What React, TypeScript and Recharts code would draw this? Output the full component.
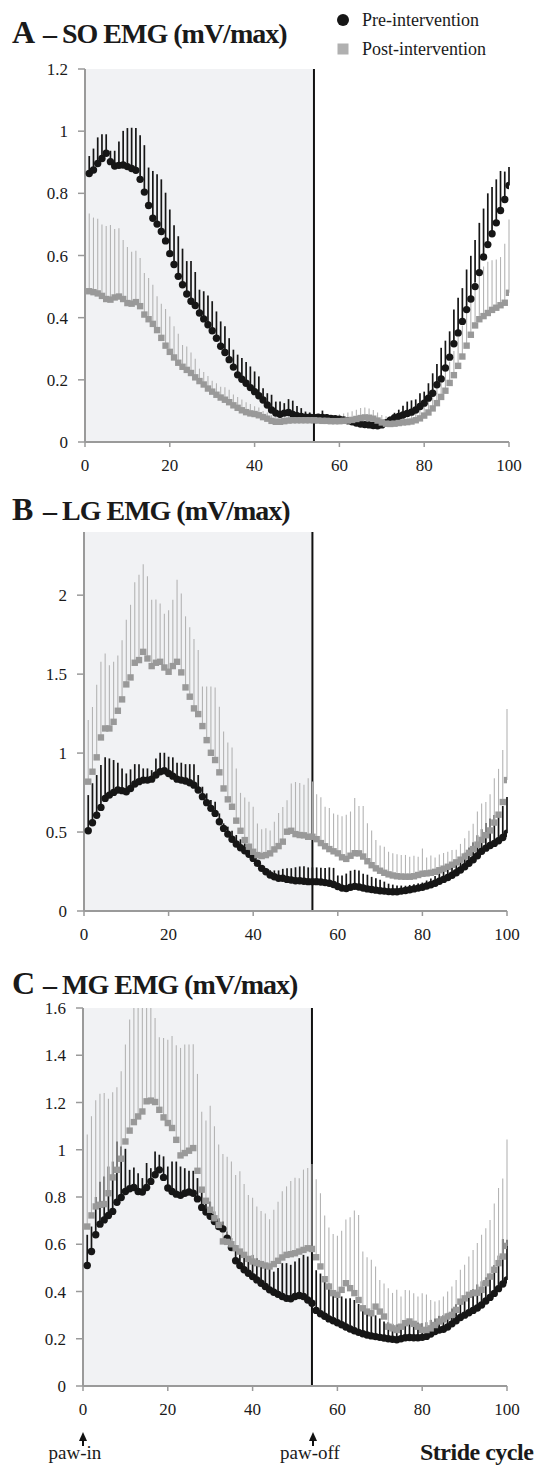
import React from 'react';
import { ComposedChart, Scatter, XAxis, YAxis, ErrorBar, ReferenceArea, ReferenceLine } from 'recharts';

const FONT = '"Liberation Serif", "Times New Roman", serif';

// stride cycle positions (%)
const STRIDE = Array.from({ length: 100 }, (_, i) => i + 1);
const X_TICKS = [0, 20, 40, 60, 80, 100];
const PAW_OFF = 54;

// ---------- A : SO EMG ----------
const PRE_A = [0.864,0.875,0.896,0.912,0.929,0.902,0.888,0.890,0.891,0.886,0.880,0.874,0.845,0.804,0.761,0.720,0.701,0.677,0.647,0.606,0.571,0.533,0.506,0.476,0.453,0.439,0.415,0.396,0.377,0.358,0.334,0.308,0.288,0.265,0.241,0.216,0.202,0.189,0.175,0.162,0.149,0.135,0.119,0.103,0.093,0.089,0.093,0.095,0.089,0.085,0.082,0.080,0.080,0.079,0.080,0.079,0.078,0.076,0.075,0.073,0.071,0.068,0.065,0.061,0.058,0.056,0.055,0.053,0.052,0.055,0.062,0.070,0.078,0.082,0.087,0.092,0.096,0.103,0.114,0.125,0.141,0.157,0.184,0.203,0.238,0.273,0.316,0.351,0.388,0.426,0.460,0.500,0.545,0.595,0.635,0.670,0.705,0.745,0.780,0.825];
const PRE_A_SD = [0.056,0.069,0.084,0.078,0.061,0.035,0.049,0.077,0.110,0.124,0.131,0.136,0.142,0.151,0.122,0.152,0.160,0.168,0.155,0.142,0.126,0.129,0.116,0.106,0.129,0.108,0.075,0.089,0.094,0.095,0.086,0.080,0.084,0.069,0.056,0.065,0.068,0.068,0.068,0.065,0.062,0.038,0.038,0.049,0.037,0.041,0.032,0.043,0.044,0.031,0.027,0.018,0.015,0.012,0.010,0.022,0.012,0.010,0.008,0.008,0.007,0.006,0.006,0.006,0.005,0.005,0.005,0.005,0.005,0.006,0.008,0.012,0.016,0.022,0.030,0.038,0.038,0.034,0.043,0.037,0.048,0.064,0.067,0.100,0.088,0.083,0.110,0.113,0.107,0.129,0.139,0.150,0.160,0.156,0.165,0.150,0.140,0.127,0.090,0.060];
const POST_A = [0.485,0.482,0.478,0.470,0.460,0.458,0.465,0.468,0.460,0.447,0.445,0.450,0.437,0.410,0.395,0.380,0.360,0.335,0.310,0.290,0.272,0.255,0.242,0.232,0.222,0.208,0.196,0.185,0.172,0.162,0.152,0.143,0.136,0.128,0.118,0.110,0.102,0.096,0.092,0.090,0.086,0.080,0.075,0.068,0.065,0.065,0.067,0.069,0.070,0.070,0.070,0.070,0.070,0.070,0.069,0.068,0.068,0.067,0.067,0.067,0.068,0.069,0.071,0.074,0.077,0.079,0.078,0.075,0.069,0.063,0.059,0.058,0.059,0.061,0.063,0.064,0.066,0.070,0.076,0.085,0.095,0.108,0.125,0.145,0.165,0.190,0.215,0.245,0.275,0.310,0.345,0.375,0.395,0.405,0.415,0.425,0.432,0.440,0.448,0.480];
const POST_A_SD = [0.250,0.240,0.240,0.230,0.235,0.240,0.220,0.220,0.190,0.180,0.167,0.165,0.155,0.134,0.133,0.126,0.109,0.110,0.118,0.114,0.100,0.093,0.070,0.075,0.066,0.060,0.040,0.040,0.040,0.035,0.037,0.035,0.040,0.040,0.035,0.035,0.035,0.032,0.030,0.025,0.025,0.020,0.020,0.018,0.016,0.015,0.014,0.013,0.012,0.012,0.012,0.012,0.012,0.012,0.012,0.014,0.016,0.018,0.020,0.022,0.024,0.026,0.028,0.030,0.032,0.032,0.030,0.028,0.026,0.024,0.024,0.026,0.028,0.028,0.030,0.032,0.034,0.036,0.040,0.044,0.046,0.050,0.054,0.058,0.062,0.068,0.078,0.095,0.100,0.105,0.120,0.140,0.150,0.160,0.165,0.160,0.155,0.155,0.190,0.236];

// ---------- B : LG EMG ----------
const PRE_B = [0.508,0.559,0.606,0.656,0.713,0.734,0.751,0.766,0.762,0.755,0.776,0.804,0.819,0.829,0.829,0.835,0.861,0.882,0.888,0.871,0.854,0.835,0.829,0.823,0.812,0.797,0.766,0.724,0.686,0.650,0.618,0.565,0.523,0.487,0.454,0.424,0.401,0.382,0.359,0.333,0.302,0.270,0.249,0.228,0.217,0.207,0.207,0.200,0.196,0.192,0.192,0.188,0.186,0.186,0.186,0.184,0.180,0.176,0.168,0.155,0.145,0.142,0.150,0.156,0.152,0.146,0.140,0.136,0.132,0.128,0.126,0.123,0.122,0.122,0.126,0.130,0.135,0.140,0.145,0.150,0.158,0.166,0.176,0.188,0.200,0.212,0.226,0.242,0.260,0.280,0.302,0.325,0.350,0.378,0.398,0.415,0.428,0.445,0.465,0.492];
const PRE_B_SD = [0.226,0.250,0.255,0.268,0.260,0.232,0.205,0.173,0.141,0.116,0.121,0.126,0.111,0.074,0.074,0.057,0.105,0.120,0.114,0.106,0.119,0.104,0.110,0.107,0.118,0.133,0.095,0.063,0.059,0.053,0.074,0.053,0.032,0.047,0.054,0.057,0.053,0.046,0.048,0.032,0.015,0.020,0.020,0.030,0.040,0.050,0.060,0.070,0.075,0.085,0.090,0.095,0.090,0.090,0.090,0.090,0.092,0.100,0.105,0.070,0.080,0.095,0.105,0.105,0.105,0.090,0.090,0.080,0.075,0.070,0.060,0.050,0.045,0.040,0.035,0.030,0.030,0.030,0.030,0.030,0.035,0.040,0.045,0.050,0.055,0.060,0.060,0.070,0.080,0.090,0.100,0.110,0.130,0.140,0.160,0.170,0.180,0.180,0.200,0.230];
const POST_B = [0.819,0.882,0.973,1.099,1.156,1.156,1.198,1.268,1.340,1.435,1.479,1.572,1.589,1.641,1.599,1.551,1.572,1.578,1.542,1.515,1.551,1.578,1.511,1.416,1.357,1.283,1.247,1.171,1.082,1.002,0.956,0.878,0.776,0.707,0.660,0.572,0.508,0.449,0.407,0.375,0.354,0.348,0.354,0.365,0.390,0.411,0.439,0.502,0.508,0.487,0.481,0.479,0.470,0.470,0.455,0.430,0.410,0.392,0.378,0.365,0.340,0.330,0.350,0.366,0.365,0.345,0.315,0.290,0.270,0.255,0.242,0.232,0.225,0.220,0.218,0.217,0.217,0.220,0.228,0.236,0.238,0.242,0.248,0.258,0.268,0.280,0.293,0.308,0.325,0.345,0.368,0.392,0.420,0.450,0.480,0.510,0.560,0.610,0.690,0.829];
const POST_B_SD = [0.390,0.410,0.460,0.480,0.475,0.400,0.380,0.350,0.375,0.410,0.460,0.510,0.540,0.555,0.520,0.420,0.400,0.370,0.340,0.390,0.420,0.520,0.500,0.450,0.440,0.440,0.405,0.250,0.340,0.420,0.460,0.415,0.360,0.360,0.376,0.330,0.240,0.270,0.285,0.285,0.200,0.170,0.170,0.145,0.175,0.210,0.220,0.200,0.300,0.330,0.330,0.320,0.370,0.350,0.285,0.290,0.250,0.260,0.240,0.245,0.260,0.280,0.280,0.350,0.300,0.320,0.240,0.220,0.180,0.160,0.165,0.143,0.140,0.140,0.137,0.138,0.127,0.130,0.116,0.160,0.100,0.110,0.090,0.100,0.100,0.095,0.093,0.080,0.100,0.115,0.140,0.160,0.210,0.230,0.210,0.230,0.280,0.290,0.330,0.450];

// ---------- C : MG EMG ----------
const PRE_C = [0.510,0.569,0.640,0.685,0.703,0.722,0.739,0.778,0.798,0.823,0.835,0.840,0.823,0.821,0.840,0.866,0.894,0.915,0.883,0.838,0.823,0.812,0.807,0.816,0.821,0.816,0.792,0.756,0.736,0.718,0.696,0.675,0.665,0.626,0.586,0.530,0.510,0.492,0.477,0.463,0.449,0.435,0.421,0.407,0.397,0.388,0.379,0.371,0.369,0.379,0.383,0.379,0.364,0.350,0.320,0.306,0.295,0.284,0.276,0.268,0.259,0.250,0.241,0.234,0.227,0.221,0.216,0.212,0.209,0.206,0.203,0.200,0.198,0.196,0.200,0.204,0.205,0.204,0.204,0.206,0.210,0.220,0.231,0.237,0.240,0.250,0.263,0.276,0.290,0.300,0.310,0.320,0.330,0.343,0.360,0.375,0.392,0.412,0.432,0.449];
const PRE_C_SD = [0.130,0.106,0.160,0.180,0.184,0.207,0.211,0.257,0.216,0.181,0.080,0.085,0.078,0.059,0.104,0.056,0.099,0.064,0.089,0.091,0.127,0.138,0.122,0.106,0.090,0.095,0.088,0.075,0.059,0.063,0.043,0.035,0.031,0.028,0.040,0.067,0.059,0.056,0.050,0.092,0.092,0.092,0.092,0.092,0.087,0.111,0.141,0.149,0.144,0.148,0.158,0.176,0.184,0.191,0.170,0.170,0.160,0.150,0.130,0.130,0.120,0.120,0.130,0.130,0.120,0.110,0.100,0.090,0.090,0.080,0.070,0.070,0.065,0.065,0.060,0.065,0.070,0.070,0.065,0.060,0.060,0.060,0.055,0.060,0.060,0.060,0.065,0.070,0.070,0.075,0.080,0.090,0.100,0.100,0.100,0.100,0.120,0.140,0.190,0.170];
const POST_C = [0.675,0.722,0.760,0.767,0.770,0.816,0.883,0.915,0.962,1.035,1.081,1.117,1.141,1.162,1.205,1.208,1.202,1.169,1.137,1.113,1.092,1.042,0.976,0.986,0.996,1.007,0.911,0.831,0.784,0.746,0.710,0.682,0.612,0.610,0.600,0.583,0.569,0.555,0.538,0.527,0.520,0.516,0.510,0.506,0.516,0.530,0.544,0.555,0.558,0.562,0.569,0.576,0.583,0.580,0.545,0.506,0.452,0.421,0.393,0.386,0.407,0.435,0.414,0.393,0.364,0.329,0.315,0.308,0.336,0.315,0.294,0.251,0.244,0.237,0.251,0.266,0.273,0.263,0.251,0.237,0.237,0.244,0.258,0.273,0.282,0.294,0.301,0.322,0.357,0.371,0.386,0.393,0.395,0.407,0.435,0.463,0.492,0.520,0.548,0.593];
const POST_C_SD = [0.390,0.420,0.450,0.470,0.470,0.400,0.360,0.350,0.370,0.410,0.470,0.483,0.459,0.438,0.395,0.392,0.356,0.307,0.336,0.353,0.390,0.400,0.455,0.460,0.450,0.440,0.410,0.330,0.340,0.440,0.390,0.340,0.370,0.360,0.350,0.310,0.340,0.300,0.270,0.270,0.240,0.225,0.220,0.200,0.230,0.250,0.280,0.290,0.310,0.320,0.310,0.340,0.340,0.360,0.330,0.310,0.270,0.250,0.250,0.250,0.250,0.270,0.300,0.350,0.360,0.240,0.230,0.226,0.170,0.134,0.140,0.163,0.150,0.170,0.128,0.140,0.132,0.130,0.128,0.156,0.150,0.120,0.100,0.090,0.097,0.106,0.120,0.127,0.135,0.142,0.162,0.183,0.210,0.233,0.233,0.240,0.280,0.318,0.330,0.450];

const Y_TICKS_A = [0, 0.2, 0.4, 0.6, 0.8, 1, 1.2];
const Y_TICKS_B = [0, 0.5, 1, 1.5, 2];
const Y_TICKS_C = [0, 0.2, 0.4, 0.6, 0.8, 1, 1.2, 1.4, 1.6];

const AXIS_GRAY = '#9a9a9a';
const PRE_COLOR = '#161616';
const POST_COLOR = '#999999';
const POST_BAR = '#b4b4b4';
const SHADE = '#f1f2f4';

const rows = (mean: number[], sd: number[]) =>
  STRIDE.map((x, i) => ({ x, y: mean[i], sd: [0, sd[i]] }));

const PreDot = (p: any) => <circle cx={p.cx} cy={p.cy} r={3.7} fill={PRE_COLOR} />;
const PostSq = (p: any) => <rect x={p.cx - 3.2} y={p.cy - 3.2} width={6.4} height={6.4} fill={POST_COLOR} />;

type PanelProps = {
  pre: number[]; preSd: number[]; post: number[]; postSd: number[];
  yMax: number; yTicks: number[];
  top: number; height: number; mTop: number; mBottom: number; left: number; right: number;
};

const TICK_STYLE = { fill: '#1a1a1a', fontSize: 17, fontFamily: FONT, style: { fontFamily: FONT } };

const Panel = ({ pre, preSd, post, postSd, yMax, yTicks, top, height, mTop, mBottom, left, right }: PanelProps) => {
  const yw = 60;
  return (
    <div style={{ position: 'absolute', left: 0, top, width: 536, height }}>
      <ComposedChart
        width={536}
        height={height}
        margin={{ top: mTop, right: 536 - right, bottom: mBottom, left: left - yw }}
        style={{ fontFamily: FONT }}
      >
        <XAxis
          type="number"
          dataKey="x"
          domain={[0, 100]}
          ticks={X_TICKS}
          allowDataOverflow
          height={30}
          tickSize={5}
          tickMargin={12}
          axisLine={{ stroke: AXIS_GRAY, strokeWidth: 2 }}
          tickLine={{ stroke: AXIS_GRAY, strokeWidth: 1.5 }}
          tick={TICK_STYLE}
        />
        <YAxis
          type="number"
          dataKey="y"
          domain={[0, yMax]}
          ticks={yTicks}
          allowDataOverflow
          width={yw}
          tickSize={7}
          tickMargin={10}
          tickFormatter={(v: number) => String(v)}
          axisLine={{ stroke: AXIS_GRAY, strokeWidth: 2 }}
          tickLine={{ stroke: AXIS_GRAY, strokeWidth: 1.5 }}
          tick={TICK_STYLE}
        />
        <ReferenceArea x1={0} x2={PAW_OFF} y1={0} y2={yMax} fill={SHADE} fillOpacity={1} stroke="none" ifOverflow="hidden" />
        <ReferenceLine x={PAW_OFF} stroke="#111" strokeWidth={2} />
        <Scatter data={rows(pre, preSd)} shape={PreDot} isAnimationActive={false}>
          <ErrorBar dataKey="sd" direction="y" width={0} stroke={PRE_COLOR} strokeWidth={1.7} isAnimationActive={false} />
        </Scatter>
        <Scatter data={rows(post, postSd)} shape={PostSq} isAnimationActive={false}>
          <ErrorBar dataKey="sd" direction="y" width={0} stroke={POST_BAR} strokeWidth={1.1} isAnimationActive={false} />
        </Scatter>
      </ComposedChart>
    </div>
  );
};

const TITLE_BIG = { fontFamily: FONT, fontWeight: 700, fontSize: 32, fill: '#1a1a1a' } as const;
const TITLE_SUB = { fontFamily: FONT, fontWeight: 700, fontSize: 28, letterSpacing: -1, fill: '#1a1a1a' } as const;
const NOTE = { fontFamily: FONT, fontSize: 19, fill: '#1a1a1a' } as const;

export default function App() {
  return (
    <div style={{ position: 'absolute', left: 0, top: 0, width: 536, height: 1466, overflow: 'hidden', background: '#fff', fontFamily: FONT }}>
      <Panel pre={PRE_A} preSd={PRE_A_SD} post={POST_A} postSd={POST_A_SD} yMax={1.2} yTicks={Y_TICKS_A}
        top={0} height={480} mTop={69} mBottom={8} left={85} right={509} />
      <Panel pre={PRE_B} preSd={PRE_B_SD} post={POST_B} postSd={POST_B_SD} yMax={2.4} yTicks={Y_TICKS_B}
        top={490} height={460} mTop={42} mBottom={9} left={84} right={507} />
      <Panel pre={PRE_C} preSd={PRE_C_SD} post={POST_C} postSd={POST_C_SD} yMax={1.6} yTicks={Y_TICKS_C}
        top={960} height={470} mTop={48} mBottom={14} left={83} right={507} />

      <svg width={536} height={1466} style={{ position: 'absolute', left: 0, top: 0, pointerEvents: 'none' }}>
        <text x={12} y={43} style={TITLE_BIG}>A</text>
        <text x={43} y={43} style={TITLE_SUB}>– SO EMG (mV/max)</text>
        <text x={12} y={520} style={TITLE_BIG}>B</text>
        <text x={43} y={520} style={TITLE_SUB}>– LG EMG (mV/max)</text>
        <text x={12} y={994} style={TITLE_BIG}>C</text>
        <text x={43} y={994} style={TITLE_SUB}>– MG EMG (mV/max)</text>

        <circle cx={343} cy={20} r={6} fill={PRE_COLOR} />
        <text x={362} y={26} style={{ fontFamily: FONT, fontSize: 18, fill: '#1a1a1a' }}>Pre-intervention</text>
        <rect x={337.5} y={43.5} width={11} height={11} fill="#b0b0b0" />
        <text x={362} y={55} style={{ fontFamily: FONT, fontSize: 18, fill: '#1a1a1a' }}>Post-intervention</text>

        <polygon points="79,1441 83,1432 87,1441" fill="#111" />
        <line x1={83} y1={1440} x2={83} y2={1446} stroke="#111" strokeWidth={2} />
        <polygon points="309,1441 313,1432 317,1441" fill="#111" />
        <line x1={313} y1={1440} x2={313} y2={1446} stroke="#111" strokeWidth={2} />
        <text x={75} y={1459} textAnchor="middle" style={NOTE}>paw-in</text>
        <text x={310} y={1459} textAnchor="middle" style={NOTE}>paw-off</text>
        <text x={420} y={1460} style={{ fontFamily: FONT, fontWeight: 700, fontSize: 24, letterSpacing: -0.5, fill: '#1a1a1a' }}>Stride cycle</text>
      </svg>
    </div>
  );
}
